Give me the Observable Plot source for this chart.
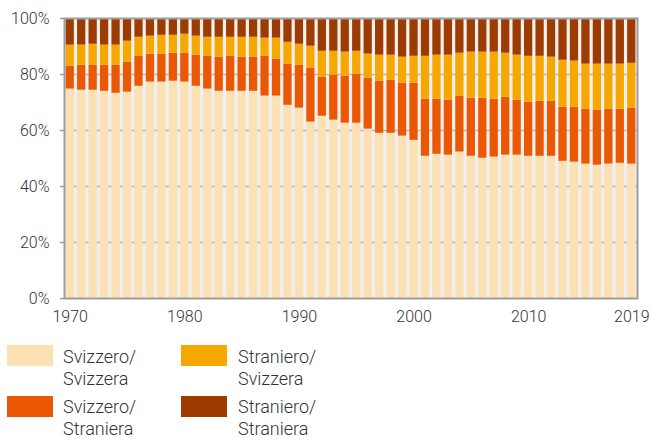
<!DOCTYPE html>
<html>
<head>
<meta charset="utf-8">
<script src="https://cdn.jsdelivr.net/npm/d3@7"></script>
<script src="https://cdn.jsdelivr.net/npm/@observablehq/plot@0.6"></script>
<style>
  html, body { margin: 0; padding: 0; background: #fff; }
  #wrap { position: relative; width: 651px; height: 438px; font-family: Roboto, "Noto Sans", sans-serif; }
  #wrap svg { display: block; }
  .lg-sw { position: absolute; width: 46px; height: 21px; }
  .lg-tx { position: absolute; font-size: 18px; line-height: 22px; font-weight: 300; color: #333; white-space: nowrap; }
</style>
</head>
<body>
<div id="wrap"></div>
<script>
const years = [1970,1971,1972,1973,1974,1975,1976,1977,1978,1979,
  1980,1981,1982,1983,1984,1985,1986,1987,1988,1989,
  1990,1991,1992,1993,1994,1995,1996,1997,1998,1999,
  2000,2001,2002,2003,2004,2005,2006,2007,2008,2009,
  2010,2011,2012,2013,2014,2015,2016,2017,2018,2019];

const seriesNames = ["Svizzero/ Svizzera", "Svizzero/ Straniera", "Straniero/ Svizzera", "Straniero/ Straniera"];
const seriesColors = ["#fde0b3", "#ea5804", "#f6a800", "#9e3b00"];

const svizzeroSvizzera = [74.8,74.4,74.4,74.0,73.3,73.7,75.8,77.3,77.3,77.6,
  77.3,75.8,74.8,74.0,74.0,74.0,74.0,72.3,72.3,69.0,
  68.0,63.0,65.1,63.7,62.6,62.6,60.5,59.0,59.0,58.0,
  56.5,50.8,51.5,51.2,52.3,50.8,50.1,50.5,51.2,51.2,
  50.8,50.8,50.8,49.0,48.7,48.0,47.6,48.0,48.3,48.0];
const svizzeroStraniera = [8.2,8.9,8.9,9.3,10.0,10.7,10.7,10.0,10.0,10.0,
  10.3,11.1,11.7,12.2,12.5,12.2,12.2,14.2,13.2,14.7,
  15.3,19.3,13.9,16.1,16.8,17.5,18.2,18.6,19.0,18.9,
  20.4,20.4,19.7,19.6,20.0,20.7,21.4,20.7,20.7,19.6,
  19.3,19.7,19.7,19.3,19.6,19.6,19.7,19.6,19.3,20.0];
const stranieroSvizzera = [7.5,7.2,7.5,7.2,7.2,7.5,6.8,6.4,6.7,6.4,
  6.8,6.8,6.8,7.1,6.8,7.1,7.1,6.5,7.5,7.8,
  7.5,7.8,9.3,8.5,8.6,8.2,8.6,9.3,8.9,9.3,
  9.6,15.3,15.7,16.1,15.3,16.5,16.5,16.8,15.7,16.1,
  16.4,16.0,15.7,16.8,16.5,16.1,16.4,16.1,16.1,16.0];
const stranieroStraniera = [9.5,9.5,9.2,9.5,9.5,8.1,6.7,6.3,6.0,6.0,
  5.6,6.3,6.7,6.7,6.7,6.7,6.7,7.0,7.0,8.5,
  9.2,9.9,11.7,11.7,12.0,11.7,12.7,13.1,13.1,13.8,
  13.5,13.5,13.1,13.1,12.4,12.0,12.0,12.0,12.4,13.1,
  13.5,13.5,13.8,14.9,15.2,16.3,16.3,16.3,16.3,16.0];

const xTickYears = [1970, 1980, 1990, 2000, 2010, 2019];
const yTicks = [0, 20, 40, 60, 80, 100];

const seriesValues = [svizzeroSvizzera, svizzeroStraniera, stranieroSvizzera, stranieroStraniera];
const data = [];
seriesNames.forEach((name, s) => {
  years.forEach((year, i) => data.push({year, series: name, value: seriesValues[s][i]}));
});

const chart = Plot.plot({
  width: 651,
  height: 330,
  marginLeft: 64,
  marginRight: 14,
  marginTop: 18,
  marginBottom: 32,
  style: {fontFamily: "Roboto, 'Noto Sans', sans-serif", fontWeight: 300, color: "#333", background: "transparent"},
  x: {type: "band", domain: years, paddingInner: 0.28, paddingOuter: 0.14, round: false},
  y: {domain: [0, 100]},
  color: {domain: seriesNames, range: seriesColors},
  marks: [
    Plot.frame({fill: "#f0f0f0", stroke: null}),
    Plot.ruleY(yTicks.slice(1, -1), {stroke: "#b9b9b9", strokeWidth: 1.3}),
    Plot.barY(data, {x: "year", y: "value", fill: "series", order: seriesNames, inset: 0}),
    Plot.frame({stroke: "#9d9d9d", strokeWidth: 2}),
    Plot.axisY({ticks: yTicks, tickFormat: d => d + "%", tickSize: 4, tickPadding: 11, stroke: "#9d9d9d", strokeWidth: 1.5, fontSize: 16, fill: "#333", label: null}),
    Plot.axisX({ticks: xTickYears, tickFormat: d => String(d), tickSize: 0, tickPadding: 12, fontSize: 16, fill: "#333", label: null})
  ]
});

const wrap = document.getElementById("wrap");
wrap.appendChild(chart);

const legendPos = [
  {sx: 7, sy: 345, tx: 63, ty: 346},
  {sx: 7, sy: 396, tx: 63, ty: 396},
  {sx: 181, sy: 345, tx: 238, ty: 346},
  {sx: 181, sy: 396, tx: 238, ty: 396}
];
seriesNames.forEach((name, i) => {
  const p = legendPos[i];
  const sw = document.createElement("div");
  sw.className = "lg-sw";
  sw.style.left = p.sx + "px";
  sw.style.top = p.sy + "px";
  sw.style.background = seriesColors[i];
  wrap.appendChild(sw);
  const tx = document.createElement("div");
  tx.className = "lg-tx";
  tx.style.left = p.tx + "px";
  tx.style.top = p.ty + "px";
  tx.innerHTML = name.split(" ").join("<br>");
  wrap.appendChild(tx);
});
</script>
</body>
</html>
